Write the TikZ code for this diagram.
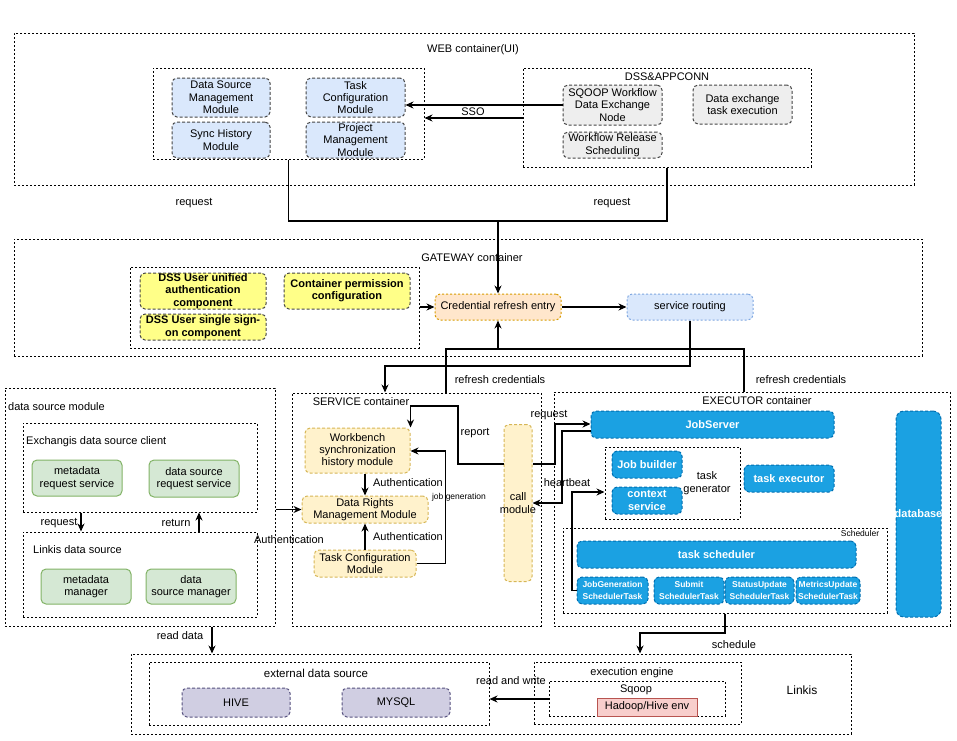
\documentclass[tikz,border=0pt]{standalone}
\usepackage{fontspec}
\setmainfont{Liberation Sans}
\usetikzlibrary{arrows.meta,calc}
\definecolor{lb}{HTML}{DAE8FC}
\definecolor{lbd}{HTML}{6C8EBF}
\definecolor{gr}{HTML}{EEEEEE}
\definecolor{dk}{HTML}{444444}
\definecolor{yl}{HTML}{FFFF88}
\definecolor{orf}{HTML}{FFE6CC}
\definecolor{ord}{HTML}{D79B00}
\definecolor{srd}{HTML}{7EA6E0}
\definecolor{gnf}{HTML}{D5E8D4}
\definecolor{gnd}{HTML}{82B366}
\definecolor{yof}{HTML}{FFF2CC}
\definecolor{yod}{HTML}{D6B656}
\definecolor{exf}{HTML}{1BA1E2}
\definecolor{exd}{HTML}{006EAF}
\definecolor{puf}{HTML}{D0CEE2}
\definecolor{pud}{HTML}{56517E}
\definecolor{rdf}{HTML}{F8CECC}
\definecolor{rdd}{HTML}{B85450}
\tikzset{
  cont/.style={draw=black, line width=1pt, dash pattern=on 2pt off 2pt, inner sep=0pt},
  modb/.style={rounded corners=5pt, line width=1pt, dash pattern=on 3pt off 2pt},
  bluem/.style={modb, fill=lb, draw=dk},
  greym/.style={modb, fill=gr, draw=dk},
  yelm/.style={modb, fill=yl, draw=dk},
  crem/.style={modb, fill=orf, draw=ord, dash pattern=on 2pt off 2pt},
  srm/.style={modb, fill=lb, draw=srd, dash pattern=on 2pt off 2pt},
  grnm/.style={rounded corners=5pt, line width=1pt, fill=gnf, draw=gnd},
  orgm/.style={modb, fill=yof, draw=yod},
  exm/.style={modb, fill=exf, draw=exd},
  dbm/.style={modb, rounded corners=8pt, fill=exf, draw=exd},
  purm/.style={modb, fill=puf, draw=pud},
  redm/.style={line width=1pt, fill=rdf, draw=rdd},
  txt/.style={font=\fontsize{11}{12.3}\selectfont, align=center, inner sep=0pt},
  btxt/.style={font=\fontsize{11}{12.3}\selectfont\bfseries, align=center, inner sep=0pt},
  wtxt/.style={font=\fontsize{11}{12.3}\selectfont\bfseries, text=white, align=center, inner sep=0pt},
  swtxt/.style={font=\fontsize{8.5}{12}\selectfont\bfseries, text=white, align=center, inner sep=0pt},
  lbl/.style={font=\fontsize{11}{13}\selectfont, inner sep=0pt, align=center},
  slbl/.style={font=\fontsize{8.5}{10}\selectfont, inner sep=0pt},
  conn/.style={line width=1.5pt},
  arr/.style={conn, -{Stealth[length=8pt,width=7pt]}},
}
\newcommand{\bx}[8]{\node[#1, minimum width=#5pt, minimum height=#6pt, inner sep=0pt] (#2) at (#3,#4) {};
  \node[#7] (#2t) at (#2.center) {#8};}
\newcommand{\ct}[5]{\node[cont, minimum width=#4pt, minimum height=#5pt] (#1) at (#2,#3) {};}
\begin{document}
\begin{tikzpicture}[x=1pt,y=-1pt]
\useasboundingbox (0,0) rectangle (957,740);

% ===== WEB container =====
\ct{web}{464}{109}{900}{152}
\node[lbl] (webl) at (473,50) {WEB container(UI)};
\ct{webL}{288.5}{113.5}{271}{91}
\ct{dss}{667}{117.5}{288}{99}
\node[lbl] (dssl) at (667,77) {DSS\&APPCONN};
\bx{bluem}{dsm}{221}{97.5}{98}{39}{txt}{Data Source\\Management\\Module}
\bx{bluem}{shm}{221}{140}{98}{36}{txt}{Sync History\\Module}
\bx{bluem}{tcm}{355.5}{97.5}{99}{39}{txt}{Task\\Configuration\\Module}
\bx{bluem}{pmm}{355.5}{140}{99}{36}{txt}{Project\\Management\\Module}
\bx{greym}{sqn}{612.5}{105}{99}{40}{txt}{SQOOP Workflow\\Data Exchange\\Node}
\bx{greym}{wrs}{612.5}{145}{99}{26}{txt}{Workflow Release\\Scheduling}
\bx{greym}{dete}{742.5}{104.5}{99}{39}{txt}{Data exchange\\task execution}

\draw[arr] (sqn.west) -- (sqn.west -| tcm.east);
\draw[arr] (dss.west |- 0,118) -- (webL.east |- 0,118);
\node[lbl] (ssol) at (473,112) {SSO};

% ===== GATEWAY =====
\ct{gw}{468}{297.5}{908}{117}
\node[lbl] (gwl) at (472,258) {GATEWAY container};
\ct{gwL}{274.5}{307.5}{289}{81}
\bx{yelm}{duua}{203}{291}{126}{36}{btxt}{DSS User unified\\authentication\\component}
\bx{yelm}{dsso}{203}{327}{126}{26}{btxt}{DSS User single sign-\\on component}
\bx{yelm}{cpc}{347}{291}{126}{36}{btxt}{Container permission\\configuration}
\bx{crem}{cre}{498}{307}{126}{26}{txt}{Credential refresh entry}
\bx{srm}{sr}{690}{307}{126}{26}{txt}{service routing}

\coordinate (j1) at (498,221);
\draw[conn] (webL.south) |- (j1);
\draw[conn] (dss.south) |- (j1);
\draw[arr] (j1) -- (cre.north);
\node[lbl] (rq1) at (194,203) {request};
\node[lbl] (rq2) at (612,203) {request};

\draw[arr] (gwL.east |- cre.west) -- (cre.west);
\draw[arr] (cre.east) -- (sr.west);

% ===== data source module =====
\ct{dsmod}{140}{507}{270}{238}
\node[lbl, anchor=west] (dsmodl) at (8,407) {data source module};
\ct{edc}{140}{467.5}{234}{89}
\node[lbl, anchor=west] (edcl) at (26,442) {Exchangis data source client};
\ct{lds}{140}{574.5}{234}{85}
\node[lbl, anchor=west] (ldsl) at (33,550) {Linkis data source};
\bx{grnm}{mrs}{77}{478}{90}{36}{txt}{metadata\\request service}
\bx{grnm}{dsrs}{194}{478.5}{90}{37}{txt}{data source\\request service}
\bx{grnm}{mm}{86}{586.5}{90}{35}{txt}{metadata\\manager}
\bx{grnm}{dsmg}{191}{586.5}{90}{35}{txt}{data\\source manager}
\draw[arr] (edc.south -| 81,0) -- (lds.north -| 81,0);
\draw[arr] (lds.north -| 199,0) -- (edc.south -| 199,0);
\node[lbl] (rq3) at (59,523) {request};
\node[lbl] (ret) at (176,523) {return};

% ===== SERVICE container =====
\ct{svc}{416.5}{509.5}{249}{233}
\node[lbl] (svcl) at (361,402) {SERVICE container};
\bx{orgm}{wsh}{357.5}{450.5}{105}{45}{txt}{Workbench\\synchronization\\history module}
\bx{orgm}{drm}{365}{509.5}{126}{27}{txt}{Data Rights\\Management Module}
\bx{orgm}{tcm2}{365}{563.5}{102}{27}{txt}{Task Configuration\\Module}
\bx{orgm}{cm}{518}{503}{28}{157}{txt}{call\\module}

\draw[arr] (dsmod.east |- drm.west) -- (drm.west);
\node[lbl] (au1) at (289,540) {Authentication};
\draw[arr] (wsh.south -| drm.north) -- (drm.north);
\draw[arr] (tcm2.north) -- (drm.south);
\node[lbl] (au2) at (408,483) {Authentication};
\node[lbl] (au3) at (408,537) {Authentication};
\coordinate (g1) at (445.5,451);
\draw[arr] (tcm2.east) -- (tcm2.east -| g1) -- (g1) -- (g1 -| wsh.east);
\node[slbl] (jgl) at (459,497) {job generation};
\coordinate (p1) at (458,406);
\draw[arr] (cm.west |- 0,464) -| (p1) -| (wsh.north east);
\node[lbl] (rep) at (475,433) {report};

% ===== EXECUTOR container =====
\ct{exe}{752}{509}{396}{234}
\node[lbl] (exel) at (757,401) {EXECUTOR container};
\bx{exm}{js}{712.5}{424.5}{243}{27}{wtxt}{JobServer}
\ct{tg}{672.5}{483}{135}{72}
\node[lbl] (tgl) at (707,483) {task\\generator};
\bx{exm}{jb}{647}{464.5}{70}{27}{wtxt}{Job builder}
\bx{exm}{cs}{647}{500.5}{70}{27}{wtxt}{context\\service}
\bx{exm}{te}{789}{478.5}{90}{27}{wtxt}{task executor}
\bx{dbm}{db}{918.5}{514}{45}{206}{wtxt}{database}
\ct{sch}{725}{570.5}{324}{85}
\node[slbl] (schl) at (860,533) {Scheduler};
\bx{exm}{ts}{716.5}{554.5}{279}{27}{wtxt}{task scheduler}
\bx{exm}{jg}{612.5}{590.5}{71}{27}{swtxt}{JobGeneration\\SchedulerTask}
\bx{exm}{sub}{689}{590.5}{70}{27}{swtxt}{Submit\\SchedulerTask}
\bx{exm}{su}{759.5}{590.5}{69}{27}{swtxt}{StatusUpdate\\SchedulerTask}
\bx{exm}{mu}{828}{590.5}{64}{27}{swtxt}{MetricsUpdate\\SchedulerTask}

\draw[arr] (cm.east |- 0,464) -| (555,424) -- (js.west |- 0,424);
\draw[arr] (js.west |- 0,431) -| (562,503) -- (cm.east |- 0,503);
\node[lbl] (rq4) at (549,415) {request};
\node[lbl] (hb) at (567,483) {heartbeat};
\draw[arr] (jg.west) -| (572,492) -- (tg.west |- 0,492);

% ===== gateway to service/executor connectors =====
\coordinate (s1) at (690,366);
\coordinate (s2) at (385,366);
\draw[arr] (sr.south) -- (s1) -- (s2) -- (s2 |- svc.north);
\coordinate (r1) at (446,349);
\coordinate (r2) at (744,349);
\draw[conn] (r1 |- svc.north) -- (r1) -- (r2) -- (r2 |- exe.north);
\draw[arr] (cre.south |- r1) -- (cre.south);
\node[lbl] (rc1) at (500,380) {refresh credentials};
\node[lbl] (rc2) at (801,380) {refresh credentials};

% ===== Linkis =====
\ct{lk}{491}{694}{720}{80}
\node[font=\fontsize{12}{14}\selectfont, inner sep=0pt] (lkl) at (802,690) {Linkis};
\ct{eds}{319}{693.5}{340}{63}
\node[lbl, font=\fontsize{11.5}{13}\selectfont] (edsl) at (316,673) {external data source};
\bx{purm}{hive}{236}{702.5}{108}{29}{txt}{HIVE}
\bx{purm}{mysql}{396}{702.5}{108}{29}{txt}{MYSQL}
\ct{ee}{637.5}{693}{207}{62}
\node[lbl] (eel) at (632,673) {execution engine};
\ct{sq}{637}{698.5}{176}{35}
\node[lbl] (sql) at (636,690) {Sqoop};
\bx{redm}{hh}{647}{707}{100}{18}{txt}{Hadoop/Hive env}
\draw[arr] (sq.west |- 0,699) -- (eds.east |- 0,699);
\node[lbl] (rw) at (511,681) {read and write};

\draw[arr] (dsmod.south -| 212,0) -- (lk.north -| 212,0);
\node[lbl] (rd) at (180,636) {read data};
\coordinate (k1) at (640,633);
\draw[arr] (sch.south) |- (k1) -- (k1 |- lk.north);
\node[lbl] (scl) at (734,645) {schedule};
\end{tikzpicture}
\end{document}
